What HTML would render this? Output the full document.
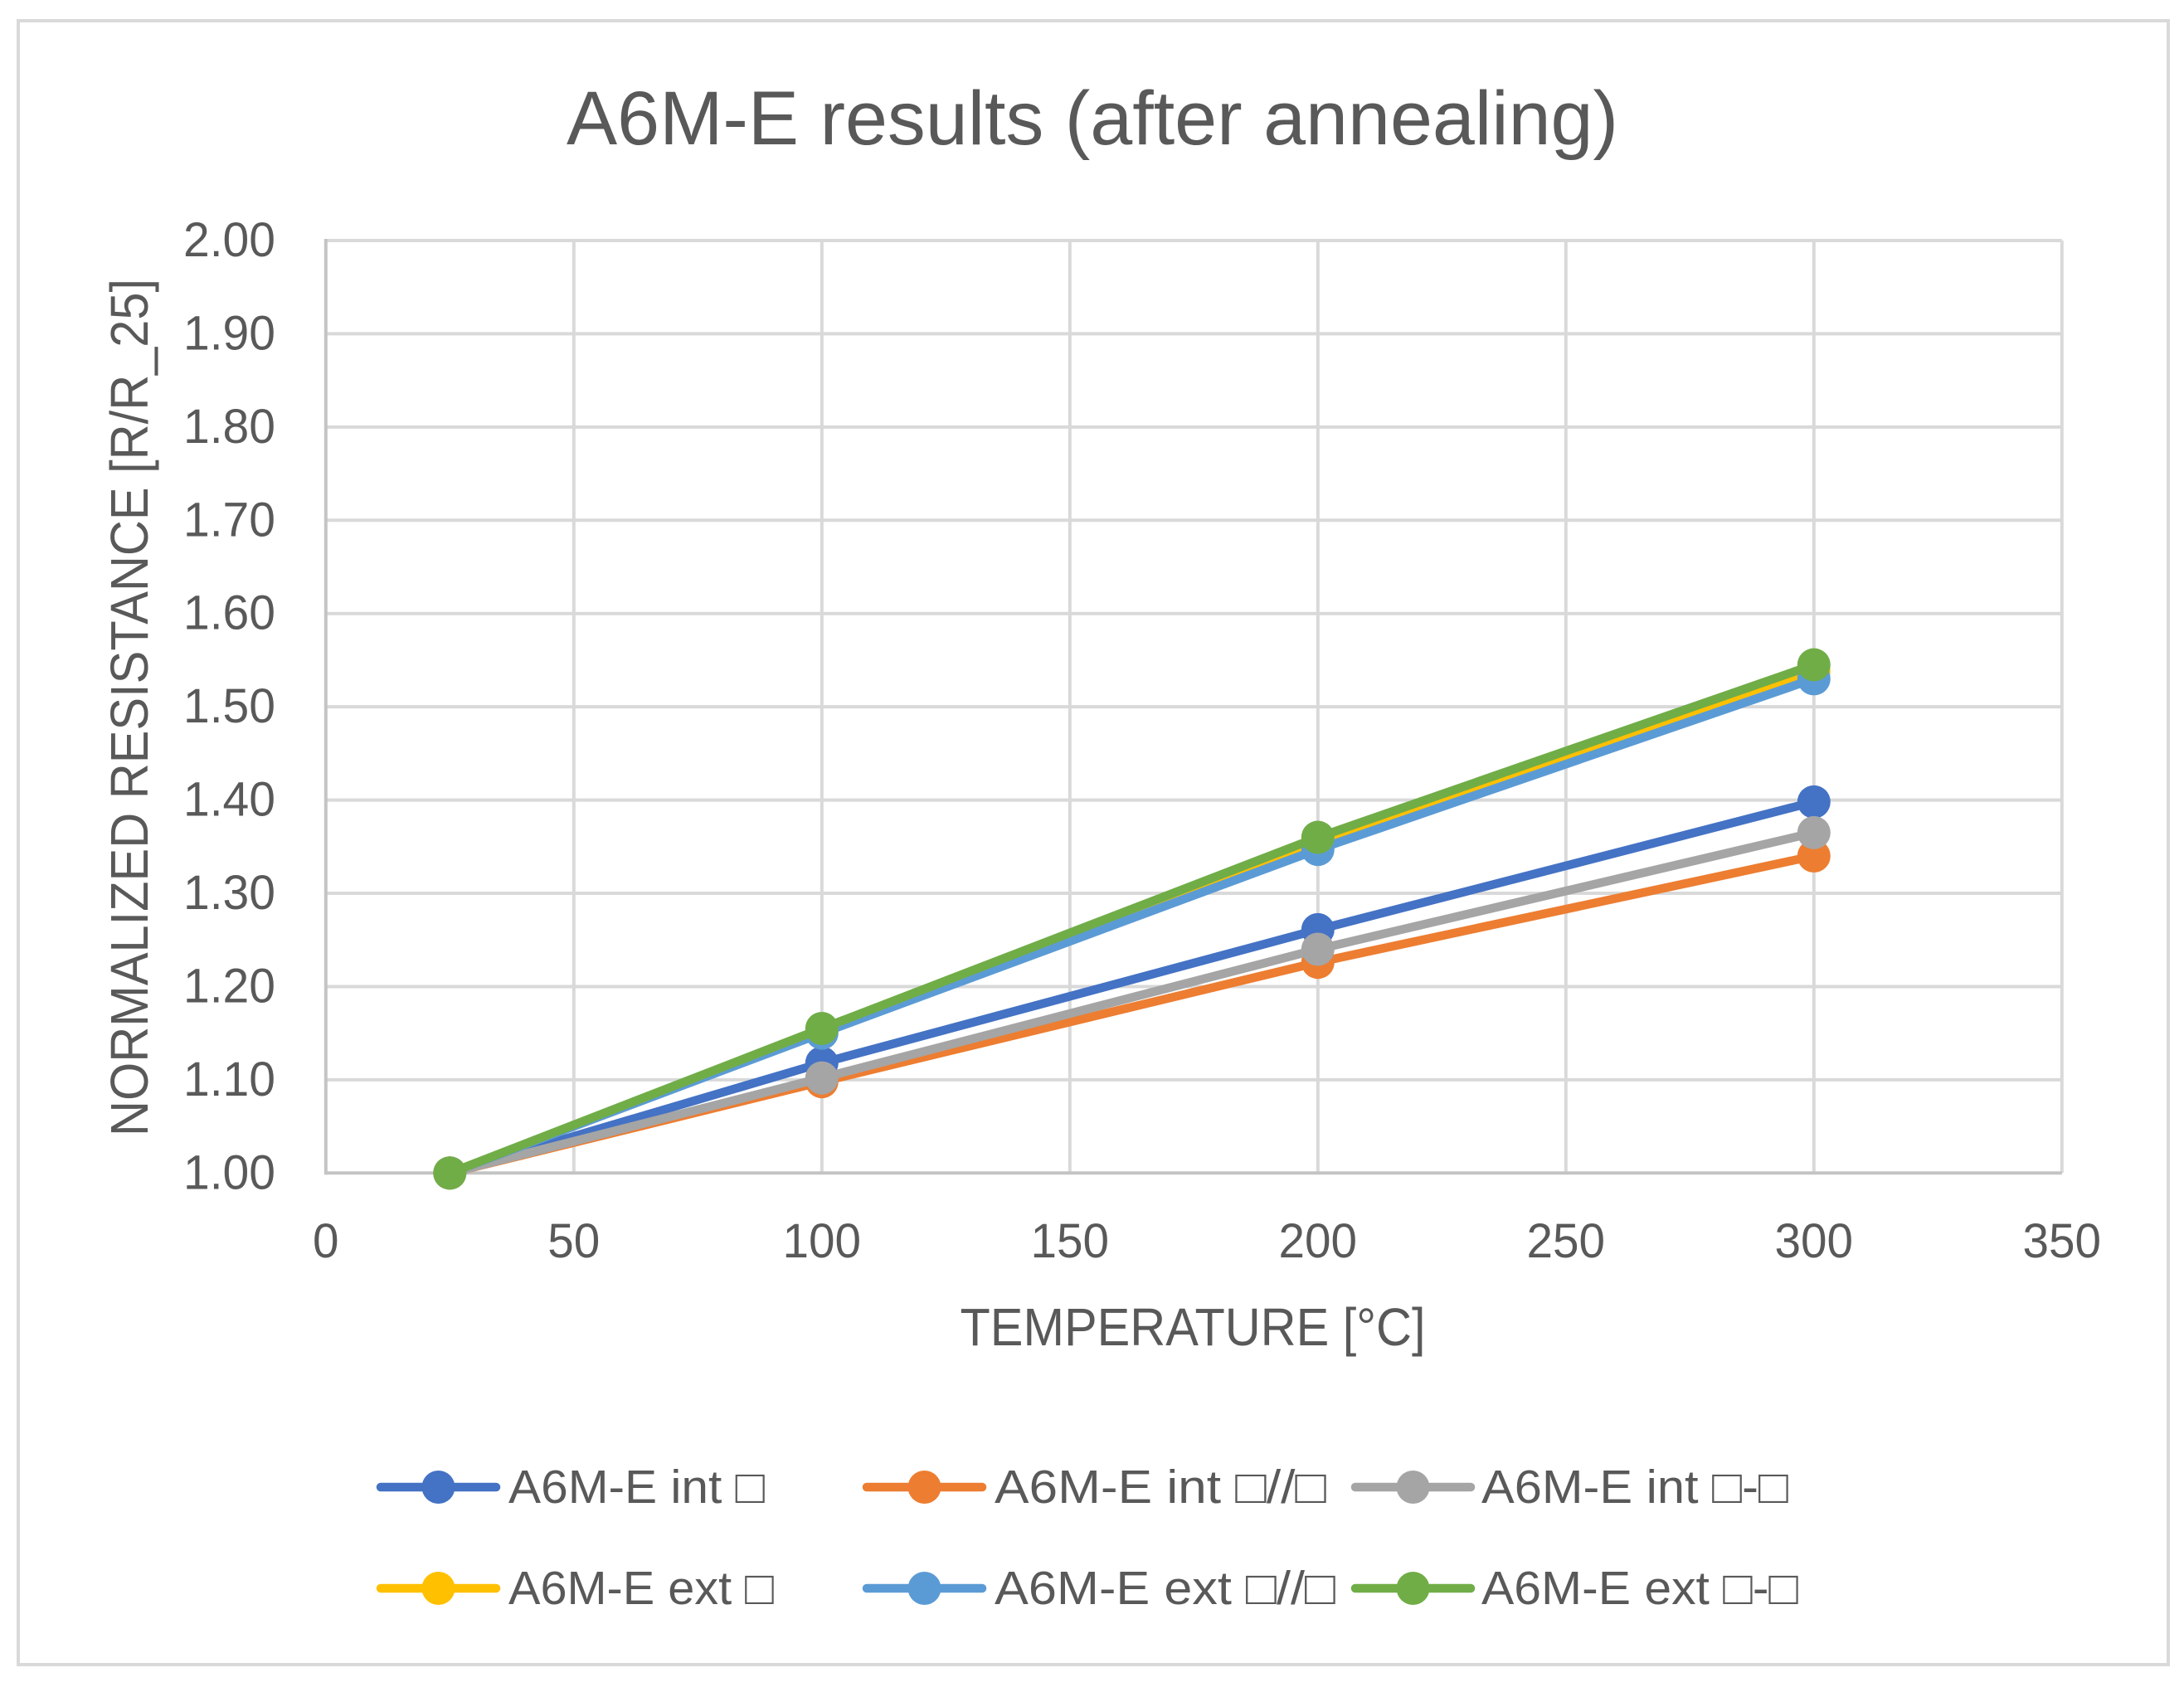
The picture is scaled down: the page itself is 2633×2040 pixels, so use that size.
<!DOCTYPE html>
<html lang="en">
<head>
<meta charset="utf-8">
<title>A6M-E results (after annealing)</title>
<style>
html,body{margin:0;padding:0;background:#fff;width:2633px;height:2040px;overflow:hidden}
svg{display:block}
text{font-family:"Liberation Sans","DejaVu Sans",sans-serif;fill:#595959}
</style>
</head>
<body>
<svg id="chart" xmlns="http://www.w3.org/2000/svg" width="2633" height="2040" viewBox="0 0 2633 2040">
  <rect x="22" y="25" width="2592" height="1982" fill="#fff" stroke="#d9d9d9" stroke-width="4"/>
  <text x="1317" y="174" font-size="92" text-anchor="middle" textLength="1268" lengthAdjust="spacingAndGlyphs">A6M-E results (after annealing)</text>
  <g id="grid"></g>
  <g id="axes"></g>
  <g id="series"></g>
  <text transform="translate(178,853) rotate(-90)" font-size="64" text-anchor="middle" textLength="1034" lengthAdjust="spacingAndGlyphs">NORMALIZED RESISTANCE [R/R_25]</text>
  <text x="1438" y="1622" font-size="64" text-anchor="middle" textLength="561" lengthAdjust="spacingAndGlyphs">TEMPERATURE [°C]</text>
  <g id="legend"></g>
</svg>
<script>
const temperatures = [25, 100, 200, 300];
const seriesNames = ["A6M-E int □", "A6M-E int □//□", "A6M-E int □-□", "A6M-E ext □", "A6M-E ext □//□", "A6M-E ext □-□"];
const seriesKeys = ["int-a", "int-parallel", "int-dash", "ext-a", "ext-parallel", "ext-dash"];
const seriesColors = ["#4472c4", "#ed7d31", "#a5a5a5", "#ffc000", "#5b9bd5", "#70ad47"];
const intA = [1.000, 1.118, 1.261, 1.398];
const intParallel = [1.000, 1.098, 1.226, 1.340];
const intDash = [1.000, 1.102, 1.240, 1.365];
const extA = [1.000, 1.152, 1.356, 1.538];
const extParallel = [1.000, 1.150, 1.347, 1.530];
const extDash = [1.000, 1.155, 1.360, 1.545];
const seriesValues = [intA, intParallel, intDash, extA, extParallel, extDash];
const xTicks = [0, 50, 100, 150, 200, 250, 300, 350];
const yTicks = [1.00, 1.10, 1.20, 1.30, 1.40, 1.50, 1.60, 1.70, 1.80, 1.90, 2.00];

const NS = "http://www.w3.org/2000/svg";
const plot = {left: 392.8, right: 2485.8, top: 290, bottom: 1414.3};
const xMin = 0, xMax = 350, yMin = 1, yMax = 2;
function xScale(v){ return plot.left + (v - xMin) / (xMax - xMin) * (plot.right - plot.left); }
function yScale(v){ return plot.bottom - (v - yMin) / (yMax - yMin) * (plot.bottom - plot.top); }
function make(tag, attrs, parent){
  const el = document.createElementNS(NS, tag);
  for (const k in attrs) el.setAttribute(k, attrs[k]);
  parent.appendChild(el);
  return el;
}
const grid = document.getElementById("grid");
const axes = document.getElementById("axes");
const seriesG = document.getElementById("series");
const legend = document.getElementById("legend");

yTicks.forEach(function(t){
  const y = yScale(t);
  if (t !== yMin) {
    const g = make("line", {x1: plot.left, x2: plot.right, y1: y, y2: y, stroke: "#d9d9d9", "stroke-width": 4}, grid);
    
    
  }
  const lab = make("text", {x: 332, y: y + 19, "font-size": 58, "text-anchor": "end", textLength: 111, lengthAdjust: "spacingAndGlyphs"}, axes);
  lab.textContent = t.toFixed(2);
  
  
});
xTicks.forEach(function(t){
  const x = xScale(t);
  if (t !== xMin) {
    const g = make("line", {x1: x, x2: x, y1: plot.top, y2: plot.bottom, stroke: "#d9d9d9", "stroke-width": 4}, grid);
    
    
  }
  const s = String(t);
  const lab = make("text", {x: x, y: 1516, "font-size": 58, "text-anchor": "middle", textLength: s.length * 31.5, lengthAdjust: "spacingAndGlyphs"}, axes);
  lab.textContent = s;
  
  
});
const yAxis = make("line", {x1: plot.left, x2: plot.left, y1: plot.top - 2, y2: plot.bottom + 2, stroke: "#c4c4c4", "stroke-width": 4}, axes);


const xAxis = make("line", {x1: plot.left, x2: plot.right, y1: plot.bottom, y2: plot.bottom, stroke: "#c4c4c4", "stroke-width": 4}, axes);



seriesValues.forEach(function(vals, i){
  const g = make("g", {}, seriesG);
  
  
  const pts = vals.map(function(v, j){ return xScale(temperatures[j]) + "," + yScale(v); }).join(" ");
  const line = make("polyline", {points: pts, fill: "none", stroke: seriesColors[i], "stroke-width": 10.5, "stroke-linejoin": "round", "stroke-linecap": "round"}, g);
  
  
  vals.forEach(function(v, j){
    const c = make("circle", {cx: xScale(temperatures[j]), cy: yScale(v), r: 20, fill: seriesColors[i]}, g);
    
    
  });
});

const legendLineX = [455, 1041, 1630];
const legendTextX = [613, 1199, 1786];
const legendRowY = [1793, 1915];
const legendTextWidths = [309, 400, 370, 320, 411, 382];
seriesNames.forEach(function(name, i){
  const col = i % 3, row = Math.floor(i / 3);
  const y = legendRowY[row], x0 = legendLineX[col];
  const g = make("g", {}, legend);
  
  
  const l = make("line", {x1: x0 + 4, x2: x0 + 143, y1: y, y2: y, stroke: seriesColors[i], "stroke-width": 10.5, "stroke-linecap": "round"}, g);
  
  
  const c = make("circle", {cx: x0 + 73.5, cy: y, r: 20, fill: seriesColors[i]}, g);
  
  
  const t = make("text", {x: legendTextX[col], y: y + 19, "font-size": 57, textLength: legendTextWidths[i], lengthAdjust: "spacingAndGlyphs"}, g);
  t.textContent = name;
  
  
});
</script>
</body>
</html>
